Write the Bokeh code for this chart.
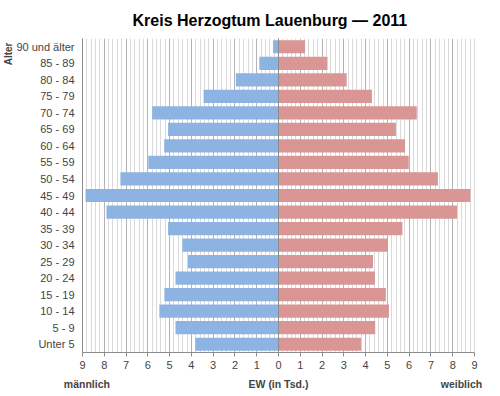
import numpy as np
from bokeh.plotting import figure
from bokeh.models import (ColumnDataSource, FixedTicker, Span, Title, LinearAxis,
                          CustomJSTickFormatter, Range1d)
from bokeh.embed import file_html
from bokeh.resources import INLINE

# Age groups from youngest (bottom) to oldest (top)
age_groups = ["Unter 5", "5 - 9", "10 - 14", "15 - 19", "20 - 24", "25 - 29", "30 - 34",
              "35 - 39", "40 - 44", "45 - 49", "50 - 54", "55 - 59", "60 - 64", "65 - 69",
              "70 - 74", "75 - 79", "80 - 84", "85 - 89", "90 und älter"]
# population in thousands
male = [3.82, 4.73, 5.47, 5.24, 4.73, 4.16, 4.41, 5.07, 7.90, 8.86,
        7.26, 5.98, 5.25, 5.07, 5.80, 3.44, 1.96, 0.88, 0.25]
female = [3.79, 4.44, 5.07, 4.93, 4.43, 4.34, 5.02, 5.69, 8.20, 8.81,
          7.32, 5.98, 5.81, 5.39, 6.35, 4.29, 3.13, 2.25, 1.22]
x_ticks = list(range(-9, 10))
bottom_texts = {-8.8: "männlich", 0: "EW (in Tsd.)", 8.4: "weiblich"}

pos = list(range(len(age_groups)))
src = ColumnDataSource(dict(y=pos, male=[-v for v in male], female=female))

p = figure(width=492, height=392, output_backend="svg", toolbar_location=None,
           x_range=Range1d(-9, 9), y_range=Range1d(-0.5, len(age_groups) - 0.5),
           min_border_left=80, min_border_right=18, min_border_top=38, min_border_bottom=40,
           title="Kreis Herzogtum Lauenburg \u2014 2011")
p.title.text_font = "Liberation Sans"
p.title.text_font_size = "16px"
p.title.text_font_style = "bold"
p.title.align = "left"
p.title.offset = 50
p.title.standoff = 19
p.title.text_color = "#000000"

p.hbar(y="y", left="male", right=0, height=0.8, source=src, color="#8db3e2", line_color=None)
p.hbar(y="y", left=0, right="female", height=0.8, source=src, color="#d99694", line_color=None)

p.add_layout(Span(location=0, dimension="height", line_color="#8c8c8c", line_width=1))

# x axis
p.xaxis.ticker = FixedTicker(ticks=x_ticks, minor_ticks=list(np.round(np.arange(-9, 9.01, 0.2), 2)))
p.xaxis.formatter = CustomJSTickFormatter(code="return Math.abs(tick).toString();")
p.xaxis.major_label_text_font = "Liberation Sans"
p.xaxis.major_label_text_font_size = "11px"
p.xaxis.major_label_standoff = 4
p.xaxis.major_tick_in = 0
p.xaxis.major_tick_out = 4
p.xaxis.minor_tick_in = 0
p.xaxis.minor_tick_out = 0
p.xaxis.axis_line_color = "#8c8c8c"
p.xaxis.major_tick_line_color = "#8c8c8c"

# second bottom axis carrying the label row
ax2 = LinearAxis(ticker=FixedTicker(ticks=list(bottom_texts.keys())),
                 major_label_overrides=bottom_texts,
                 major_label_text_font="Liberation Sans", major_label_text_font_size="10.5px",
                 major_label_text_font_style="bold", major_label_standoff=0,
                 axis_line_color=None, major_tick_line_color=None, minor_tick_line_color=None)
p.add_layout(ax2, "below")

# y axis
p.yaxis.ticker = FixedTicker(ticks=pos)
p.yaxis.major_label_overrides = {i: g for i, g in enumerate(age_groups)}
p.yaxis.major_label_text_font = "Liberation Sans"
p.yaxis.major_label_text_font_size = "11px"
p.yaxis.major_label_standoff = 8
p.yaxis.major_tick_in = 0
p.yaxis.major_tick_out = 0
p.yaxis.minor_tick_line_color = None
p.yaxis.axis_line_color = "#8c8c8c"

# "Alter" label on the left, top aligned
p.add_layout(Title(text="Alter", align="right", text_font="Liberation Sans",
                   text_font_size="10px", text_font_style="bold", standoff=0, offset=4), "left")

# grid
p.ygrid.grid_line_color = None
p.xgrid.grid_line_color = "#b4b4b4"
p.xgrid.minor_grid_line_color = "#dadada"

p.outline_line_color = None
p.add_layout(Span(location=9, dimension="height", line_color="#b4b4b4", line_width=1))

open("out.html", "w").write(file_html(p, INLINE))
